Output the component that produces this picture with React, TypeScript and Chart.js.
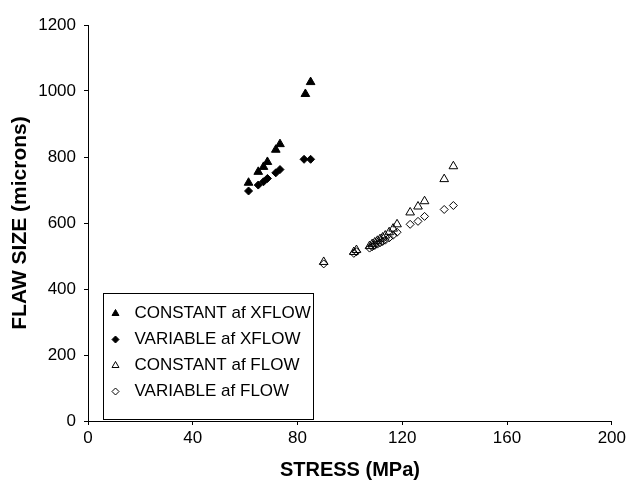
import React, { useEffect, useRef } from 'react';
import { Chart, registerables } from 'chart.js';

Chart.register(...registerables);

// ---- data ----
const seriesNames = ['CONSTANT af XFLOW', 'VARIABLE af XFLOW', 'CONSTANT af FLOW', 'VARIABLE af FLOW'];

const xflowStress = [61.3, 65, 67, 68.5, 71.7, 73.3, 83, 85];
const constXflowFlaw = [722, 755, 770, 785, 822, 839, 991, 1027];
const varXflowStress = [61.3, 65, 67, 68.5, 71.7, 73.3, 82.5, 85];
const varXflowFlaw = [697, 715, 725, 735, 752, 762, 793, 793];

const flowStress = [90, 101.5, 102.5, 107.5, 108.5, 109.5, 110.5, 111.5, 112.5, 113.5, 115, 116.5, 118, 123, 126, 128.5, 136, 139.5];
const constFlowFlaw = [482, 512, 518, 530, 536, 541, 546, 551, 556, 562, 572, 583, 596, 632, 650, 666, 733, 772];
const varFlowFlaw = [476, 508, 513, 524, 528, 532, 536, 540, 544, 548, 555, 563, 572, 596, 605, 620, 641, 653];

const xTicks = [0, 40, 80, 120, 160, 200];
const yTicks = [0, 200, 400, 600, 800, 1000, 1200];

const toPts = (xs: number[], ys: number[]) => xs.map((x, i) => ({ x, y: ys[i] }));

const FONT = "'Liberation Sans', Arial, sans-serif";

const legendPlugin = {
  id: 'boxLegend',
  afterDraw(chart: any) {
    const ctx = chart.ctx as CanvasRenderingContext2D;
    const area = chart.chartArea;
    const x0 = Math.round(area.left + 15) + 0.5;
    const h = 126;
    const w = 210;
    const y0 = Math.round(area.bottom - 2 - h) + 0.5;
    ctx.save();
    ctx.fillStyle = '#ffffff';
    ctx.fillRect(x0, y0, w, h);
    ctx.strokeStyle = '#000000';
    ctx.lineWidth = 1;
    ctx.strokeRect(x0, y0, w, h);
    ctx.font = `17px ${FONT}`;
    ctx.textBaseline = 'middle';
    ctx.textAlign = 'left';
    chart.data.datasets.forEach((ds: any, i: number) => {
      const cy = y0 + 20 + i * 26;
      const cx = x0 + 12;
      ctx.beginPath();
      if (ds.pointStyle === 'triangle') {
        const r = 4;
        ctx.moveTo(cx, cy - r);
        ctx.lineTo(cx + r * 0.866, cy + r * 0.5);
        ctx.lineTo(cx - r * 0.866, cy + r * 0.5);
        ctx.closePath();
      } else {
        const r = 3.5;
        ctx.moveTo(cx, cy - r);
        ctx.lineTo(cx + r, cy);
        ctx.lineTo(cx, cy + r);
        ctx.lineTo(cx - r, cy);
        ctx.closePath();
      }
      if (ds.backgroundColor !== 'rgba(0,0,0,0)') {
        ctx.fillStyle = '#000';
        ctx.fill();
      }
      ctx.strokeStyle = '#000';
      ctx.lineWidth = 1;
      ctx.stroke();
      ctx.fillStyle = '#000';
      ctx.fillText(ds.label, x0 + 31, cy);
    });
    ctx.restore();
  },
};

export default function App() {
  const ref = useRef<HTMLCanvasElement | null>(null);

  useEffect(() => {
    if (!ref.current) return;
    const chart = new Chart(ref.current, {
      type: 'scatter',
      data: {
        datasets: [
          {
            label: seriesNames[0],
            data: toPts(xflowStress, constXflowFlaw),
            pointStyle: 'triangle',
            pointRadius: 5,
            backgroundColor: '#000',
            borderColor: '#000',
            borderWidth: 1,
          },
          {
            label: seriesNames[1],
            data: toPts(varXflowStress, varXflowFlaw),
            pointStyle: 'rectRot',
            pointRadius: 4,
            backgroundColor: '#000',
            borderColor: '#000',
            borderWidth: 1,
          },
          {
            label: seriesNames[2],
            data: toPts(flowStress, constFlowFlaw),
            pointStyle: 'triangle',
            pointRadius: 5,
            backgroundColor: 'rgba(0,0,0,0)',
            borderColor: '#000',
            borderWidth: 1,
          },
          {
            label: seriesNames[3],
            data: toPts(flowStress, varFlowFlaw),
            pointStyle: 'rectRot',
            pointRadius: 4,
            backgroundColor: 'rgba(0,0,0,0)',
            borderColor: '#000',
            borderWidth: 1,
          },
        ],
      },
      options: {
        animation: false,
        responsive: false,
        devicePixelRatio: 1,
        layout: { padding: { top: 25, right: 15, left: 0, bottom: 0 } },
        plugins: {
          legend: { display: false },
          tooltip: { enabled: false },
        },
        scales: {
          x: {
            type: 'linear',
            min: 0,
            max: 200,
            afterBuildTicks: (s: any) => {
              s.ticks = xTicks.map((v) => ({ value: v }));
            },
            afterFit: (s: any) => {
              s.height = 63;
            },
            grid: { display: true, drawOnChartArea: false, drawTicks: true, tickLength: 4, color: '#000' },
            border: { display: true, color: '#000', width: 1 },
            ticks: {
              color: '#000',
              font: { family: FONT, size: 17 },
              padding: 3,
              maxRotation: 0,
              callback: (v: any) => String(v),
            },
            title: {
              display: true,
              text: 'STRESS (MPa)',
              color: '#000',
              font: { family: FONT, size: 20, weight: 'bold' },
              padding: { top: 0, bottom: 2 },
            },
          },
          y: {
            type: 'linear',
            min: 0,
            max: 1200,
            afterBuildTicks: (s: any) => {
              s.ticks = yTicks.map((v) => ({ value: v }));
            },
            afterFit: (s: any) => {
              s.width = 88;
            },
            grid: { display: true, drawOnChartArea: false, drawTicks: true, tickLength: 4, color: '#000' },
            border: { display: true, color: '#000', width: 1 },
            ticks: {
              color: '#000',
              font: { family: FONT, size: 17 },
              padding: 8,
              callback: (v: any) => String(v),
            },
            title: {
              display: true,
              text: 'FLAW SIZE (microns)',
              color: '#000',
              font: { family: FONT, size: 21, weight: 'bold' },
              padding: { top: 8, bottom: 0 },
            },
          },
        },
      },
      plugins: [legendPlugin],
    } as any);
    return () => chart.destroy();
  }, []);

  return (
    <div style={{ position: 'fixed', left: 0, top: 0, width: 629, height: 484, background: '#fff' }}>
      <canvas ref={ref} width={629} height={484} style={{ display: 'block', width: 629, height: 484 }} />
    </div>
  );
}
